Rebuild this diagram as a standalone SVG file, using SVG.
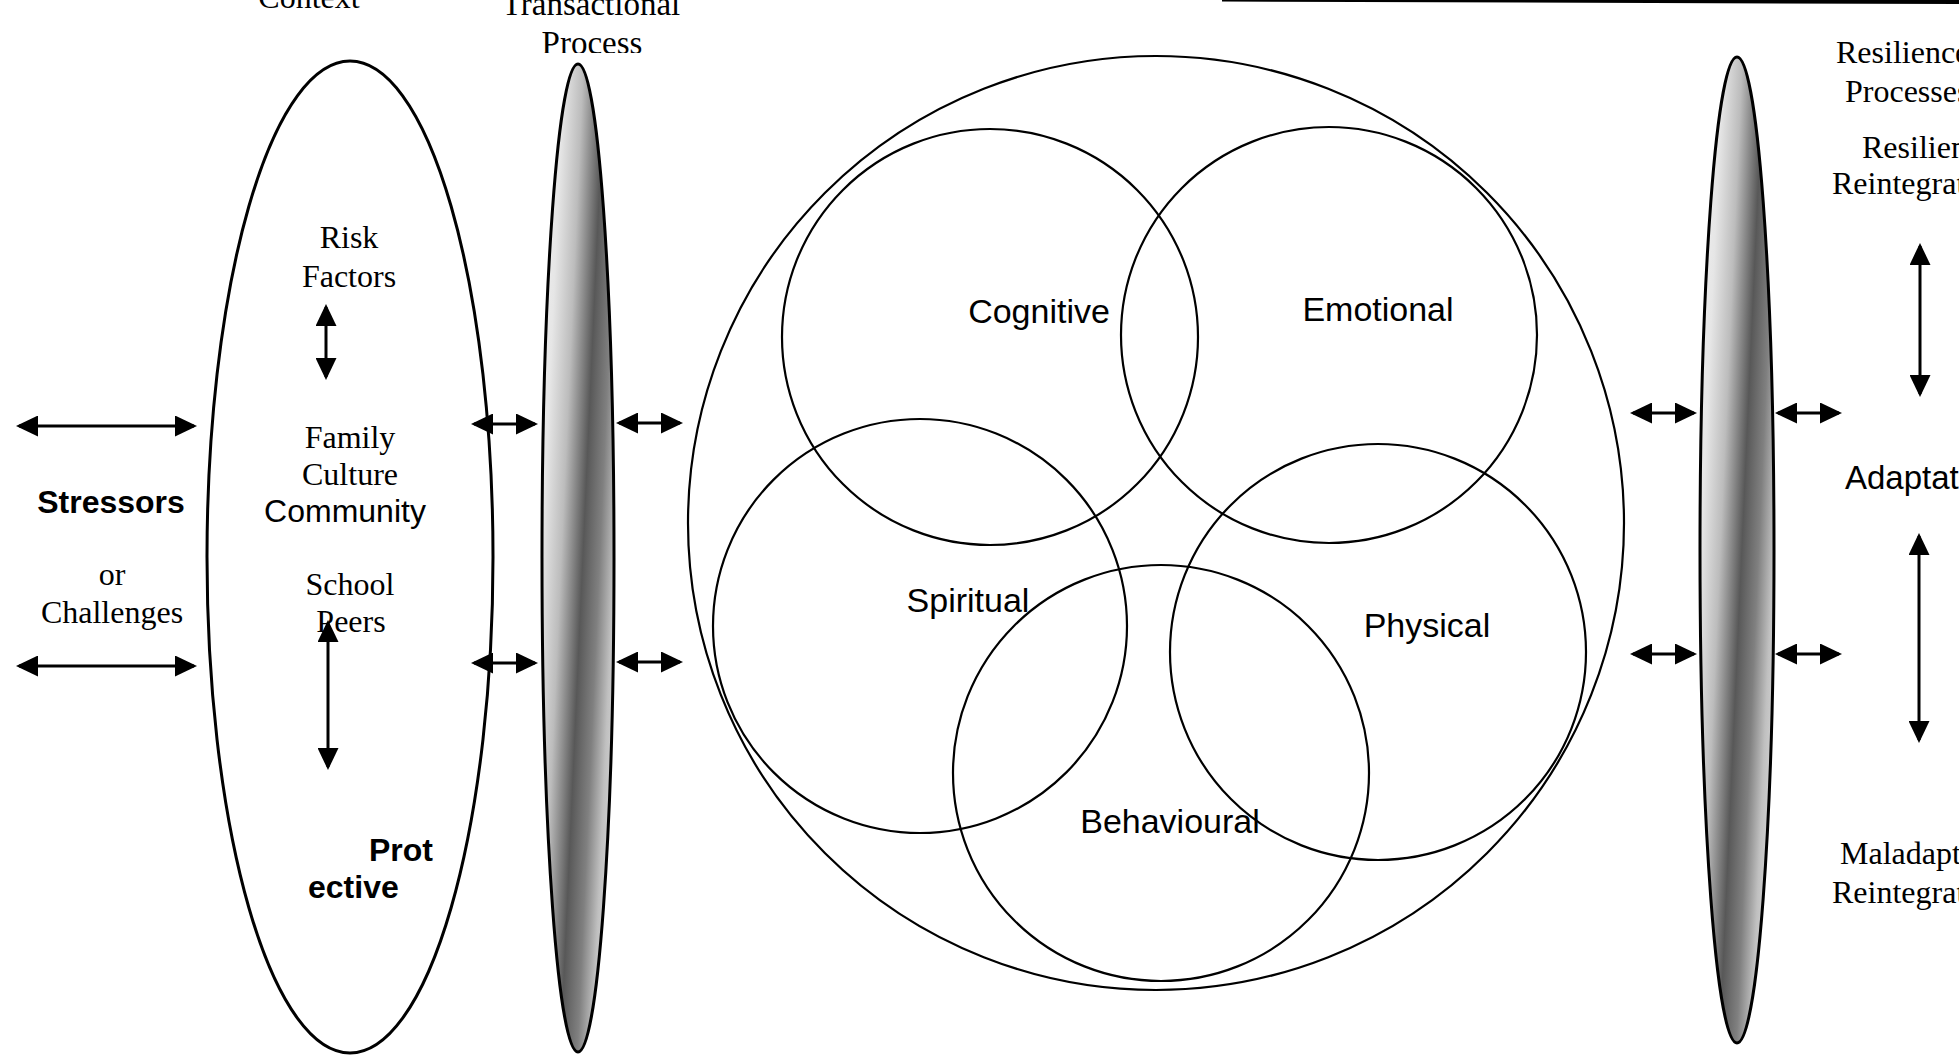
<svg xmlns="http://www.w3.org/2000/svg" width="1959" height="1059" viewBox="0 0 1959 1059">
<style>
.serif{font-family:"Liberation Serif","Times New Roman",serif;font-size:32px;fill:#000}
.sans{font-family:"Liberation Sans",Arial,sans-serif;font-size:32px;fill:#000}
.bold{font-family:"Liberation Sans",Arial,sans-serif;font-size:32px;font-weight:bold;fill:#000}
.lab{font-family:"Liberation Sans",Arial,sans-serif;font-size:34px;fill:#000}
.ring{fill:none;stroke:#000;stroke-width:2.2}
.ctx{fill:none;stroke:#000;stroke-width:3}
.arr{stroke:#000;stroke-width:3;fill:none;marker-start:url(#ah);marker-end:url(#ah)}
</style>
<defs>
<marker id="ah" viewBox="0 0 22 21" refX="19" refY="10.5" markerWidth="22" markerHeight="21" markerUnits="userSpaceOnUse" orient="auto-start-reverse">
<path d="M0,0 L22,10.5 L0,21 z" fill="#000"/>
</marker>
<linearGradient id="shadeL" gradientUnits="userSpaceOnUse" x1="518" y1="555.3" x2="638" y2="560.7">
<stop offset="0" stop-color="#f4f4f4"/>
<stop offset="0.2" stop-color="#e6e6e6"/>
<stop offset="0.36" stop-color="#bcbcbc"/>
<stop offset="0.54" stop-color="#585858"/>
<stop offset="0.68" stop-color="#808080"/>
<stop offset="0.8" stop-color="#c0c0c0"/>
<stop offset="1" stop-color="#eeeeee"/>
</linearGradient>
<linearGradient id="shadeR" gradientUnits="userSpaceOnUse" x1="1677" y1="547.3" x2="1797" y2="552.7">
<stop offset="0" stop-color="#f4f4f4"/>
<stop offset="0.2" stop-color="#e6e6e6"/>
<stop offset="0.36" stop-color="#bcbcbc"/>
<stop offset="0.54" stop-color="#585858"/>
<stop offset="0.68" stop-color="#808080"/>
<stop offset="0.8" stop-color="#c0c0c0"/>
<stop offset="1" stop-color="#eeeeee"/>
</linearGradient>
<clipPath id="clipTop"><rect x="0" y="0" width="1959" height="53"/></clipPath>
</defs>
<rect x="0" y="0" width="1959" height="1059" fill="#fff"/>
<polygon points="1222,0 1959,0 1959,4 1222,1.5" fill="#000"/>

<g id="context">
<ellipse class="ctx" cx="350" cy="557" rx="143" ry="496"/>
<text class="serif" x="309" y="8" text-anchor="middle">Context</text>
<text class="serif" x="349" y="248" text-anchor="middle">Risk</text>
<text class="serif" x="349" y="287" text-anchor="middle">Factors</text>
<text class="serif" x="350" y="448" text-anchor="middle">Family</text>
<text class="serif" x="350" y="485" text-anchor="middle">Culture</text>
<text class="sans" x="345" y="522" text-anchor="middle">Community</text>
<text class="serif" x="350" y="595" text-anchor="middle">School</text>
<text class="serif" x="351" y="632" text-anchor="middle">Peers</text>
<text class="bold" x="369" y="861">Prot</text>
<text class="bold" x="308" y="898">ective</text>
</g>

<g id="stressors">
<text class="bold" x="111" y="513" text-anchor="middle">Stressors</text>
<text class="serif" x="112" y="585" text-anchor="middle">or</text>
<text class="serif" x="112" y="623" text-anchor="middle">Challenges</text>
</g>

<g id="transactional">
<ellipse cx="578" cy="558" rx="36" ry="494" fill="url(#shadeL)" stroke="#000" stroke-width="3"/>
<text class="serif" x="591" y="15" text-anchor="middle" style="font-size:33px">Transactional</text>
<g clip-path="url(#clipTop)"><text class="serif" x="592" y="54" text-anchor="middle" style="font-size:33px">Process</text></g>
</g>

<g id="self">
<ellipse class="ring" cx="1156" cy="523" rx="468" ry="467"/>
</g>
<g id="cognitive">
<circle class="ring" cx="990" cy="337" r="208"/>
<text class="lab" x="1039" y="323" text-anchor="middle">Cognitive</text>
</g>
<g id="emotional">
<circle class="ring" cx="1329" cy="335" r="208"/>
<text class="lab" x="1378" y="321" text-anchor="middle">Emotional</text>
</g>
<g id="spiritual">
<circle class="ring" cx="920" cy="626" r="207"/>
<text class="lab" x="968" y="612" text-anchor="middle">Spiritual</text>
</g>
<g id="physical">
<circle class="ring" cx="1378" cy="652" r="208"/>
<text class="lab" x="1427" y="637" text-anchor="middle">Physical</text>
</g>
<g id="behavioural">
<circle class="ring" cx="1161" cy="773" r="208"/>
<text class="lab" x="1170" y="833" text-anchor="middle">Behavioural</text>
</g>

<g id="resilience">
<ellipse cx="1737" cy="550" rx="37" ry="493" fill="url(#shadeR)" stroke="#000" stroke-width="3"/>
<text class="serif" x="1836" y="63">Resilience</text>
<text class="serif" x="1845" y="102">Processes</text>
</g>
<g id="outcomes">
<text class="serif" x="1862" y="158">Resilient</text>
<text class="serif" x="1832" y="194">Reintegration</text>
<text class="sans" x="1845" y="489" style="font-size:33px">Adaptation</text>
<text class="serif" x="1840" y="864">Maladaptive</text>
<text class="serif" x="1832" y="903">Reintegration</text>
</g>

<g id="connectors">
<line class="arr" x1="19" y1="426" x2="194" y2="426"/>
<line class="arr" x1="19" y1="666" x2="194" y2="666"/>
<line class="arr" x1="474" y1="424" x2="535" y2="424"/>
<line class="arr" x1="474" y1="663" x2="535" y2="663"/>
<line class="arr" x1="619" y1="423" x2="680" y2="423"/>
<line class="arr" x1="619" y1="662" x2="680" y2="662"/>
<line class="arr" x1="1633" y1="413" x2="1694" y2="413"/>
<line class="arr" x1="1633" y1="654" x2="1694" y2="654"/>
<line class="arr" x1="1778" y1="413" x2="1839" y2="413"/>
<line class="arr" x1="1778" y1="654" x2="1839" y2="654"/>
<line class="arr" x1="1920" y1="246" x2="1920" y2="394"/>
<line class="arr" x1="1919" y1="536" x2="1919" y2="740"/>
<line class="arr" x1="326" y1="307" x2="326" y2="377"/>
<line class="arr" x1="328" y1="623" x2="328" y2="767"/>
</g>
</svg>
